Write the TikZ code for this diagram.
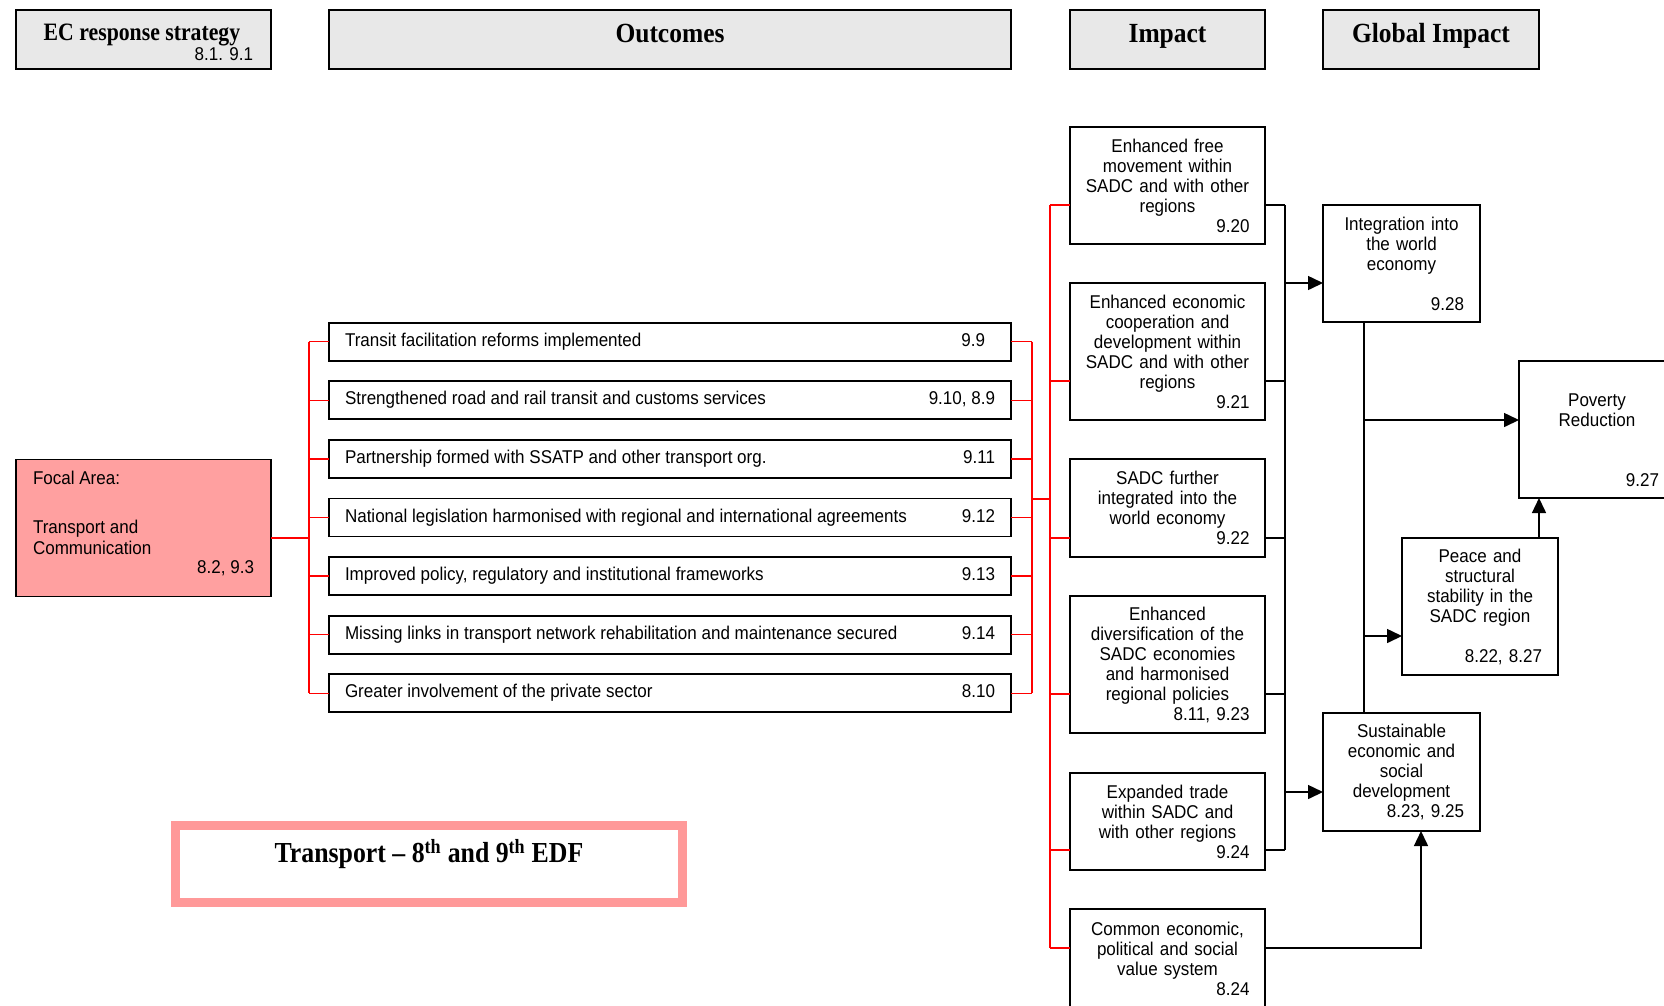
\documentclass[tikz,border=0pt]{standalone}
\usepackage{fontspec}
\setmainfont{Liberation Sans}[FakeStretch=0.92]
\newfontfamily\hdfont{Liberation Serif}[FakeStretch=0.92,Ligatures=TeX]
\newfontfamily\ecfont{Liberation Serif}[FakeStretch=0.87,Ligatures=TeX]
\newfontfamily\ttlfont{Liberation Serif}[FakeStretch=0.89,Ligatures=TeX]
\usetikzlibrary{arrows.meta,calc}
\definecolor{pinkfill}{RGB}{255,160,160}
\definecolor{pinkframe}{RGB}{255,153,153}
\definecolor{hdgray}{RGB}{232,232,232}
\begin{document}
\begin{tikzpicture}[x=1pt,y=-1pt,
  every node/.style={inner sep=0pt, outer sep=0pt},
  body/.style={font=\fontsize{18.5}{20}\selectfont},
  box/.style={draw=black, line width=1.8pt, fill=white, body},
  obox/.style={box, minimum width=682, minimum height=38, text height=12.8pt, text depth=3.8pt},
  ibox/.style={box, minimum width=195, text width=178, align=center},
  gbox/.style={box, minimum width=157, text width=135, align=center},
  hdbox/.style={draw=black, line width=2pt, fill=hdgray, minimum height=59.5, anchor=north west},
  hdtext/.style={font=\hdfont\bfseries\fontsize{27.7}{30}\selectfont, anchor=base},
  redl/.style={draw=red, line width=1.4pt},
  blk/.style={draw=black, line width=1.5pt},
  arr/.style={blk, -{Triangle[length=15pt,width=14pt]}},
]
\useasboundingbox (0,0) rectangle (1664,1005);
\fill[white] (0,0) rectangle (1664,1005);

% ---------- headers
\node[hdbox, minimum width=255] (hEC) at (16,9.5) {};
\node[font=\ecfont\bfseries\fontsize{25}{28}\selectfont, anchor=base] (hECt) at (142,40) {EC response strategy};
\node[body, anchor=east] (hECn) at (253,54) {8.1. 9.1};
\node[hdbox, minimum width=682] (hOut) at (329,9.5) {};
\node[hdtext] (hOutt) at (670,42) {Outcomes};
\node[hdbox, minimum width=195] (hImp) at (1070,9.5) {};
\node[hdtext] (hImpt) at (1167.5,42) {Impact};
\node[hdbox, minimum width=216] (hGlo) at (1323,9.5) {};
\node[hdtext] (hGlot) at (1431,42) {Global Impact};

% ---------- focal area
\node[draw=black, line width=1.8pt, fill=pinkfill, minimum width=255, minimum height=137, anchor=north west] (focal) at (16,459.5) {};
\node[body, anchor=base west] (focalt1) at (33,484) {Focal Area:};
\node[body, anchor=base west] (focalt2) at (33,533) {Transport and};
\node[body, anchor=base west] (focalt3) at (33,554) {Communication};
\node[body, anchor=east] (focaln) at (254,568) {8.2, 9.3};

% ---------- outcomes
\node[obox] (o1) at (670,341.7) {\makebox[650pt][l]{Transit facilitation reforms implemented\hfill 9.9\hspace{10pt}}};
\node[obox] (o2) at (670,400.3) {\makebox[650pt][l]{Strengthened road and rail transit and customs services\hfill 9.10, 8.9}};
\node[obox] (o3) at (670,458.9) {\makebox[650pt][l]{Partnership formed with SSATP and other transport org.\hfill 9.11}};
\node[obox] (o4) at (670,517.5) {\makebox[650pt][l]{National legislation harmonised with regional and international agreements\hfill 9.12}};
\node[obox] (o5) at (670,576.1) {\makebox[650pt][l]{Improved policy, regulatory and institutional frameworks\hfill 9.13}};
\node[obox] (o6) at (670,634.7) {\makebox[650pt][l]{Missing links in transport network rehabilitation and maintenance secured\hfill 9.14}};
\node[obox] (o7) at (670,693.3) {\makebox[650pt][l]{Greater involvement of the private sector\hfill 8.10}};

% ---------- impact
\node[ibox, minimum height=117] (i1) at (1167.5,185.5) {Enhanced free\\movement within\\SADC and with other\\regions\\\hspace*{\fill}9.20\kern7pt};
\node[ibox, minimum height=137] (i2) at (1167.5,351.5) {Enhanced economic\\cooperation and\\development within\\SADC and with other\\regions\\\hspace*{\fill}9.21\kern7pt};
\node[ibox, minimum height=98] (i3) at (1167.5,508) {SADC further\\integrated into the\\world economy\\\hspace*{\fill}9.22\kern7pt};
\node[ibox, minimum height=137] (i4) at (1167.5,664.5) {Enhanced\\diversification of the\\SADC economies\\and harmonised\\regional policies\\\hspace*{\fill}8.11, 9.23\kern7pt};
\node[ibox, minimum height=97] (i5) at (1167.5,821.5) {Expanded trade\\within SADC and\\with other regions\\\hspace*{\fill}9.24\kern7pt};
\node[ibox, minimum height=99] (i6) at (1167.5,958.5) {Common economic,\\political and social\\value system\\\hspace*{\fill}8.24\kern7pt};

% ---------- global impact
\node[gbox, minimum height=117] (g1) at (1401.5,263.5) {Integration into\\the world\\economy\\[20pt]\hspace*{\fill}9.28\kern5pt};
\node[gbox, minimum height=118] (sus) at (1401.5,772) {Sustainable\\economic and\\social\\development\\\hspace*{\fill}8.23, 9.25\kern5pt};
\node[box, minimum width=156, minimum height=137, text width=134, align=center] (peace) at (1480,606.5) {Peace and\\structural\\stability in the\\SADC region\\[20pt]\hspace*{\fill}8.22, 8.27\kern5pt};
\node[box, minimum width=156, minimum height=137, anchor=north west] (pov) at (1519,361) {};
\node[body, align=center] (povt) at (1597,410.5) {Poverty\\Reduction};
\node[body, anchor=east] (povn) at (1659,480) {9.27};

% ---------- title
\node[draw=pinkframe, line width=9pt, fill=white, minimum width=507, minimum height=77] (title) at (429,864) {};
\node[font=\ttlfont\bfseries\fontsize{29}{32}\selectfont] (titlet) at (429,854) {Transport – 8\textsuperscript{th} and 9\textsuperscript{th} EDF};

% ---------- red connectors
\coordinate (lb) at (309,538);
\draw[redl] (lb -| focal.east) -- (lb);
\draw[redl] (o1.west -| lb) -- (o7.west -| lb);
\foreach \k in {1,...,7} { \draw[redl] (o\k.west -| lb) -- (o\k.west); }
\coordinate (rb) at (1032,499);
\coordinate (rb2) at (1050,499);
\foreach \k in {1,...,7} { \draw[redl] (o\k.east) -- (o\k.east -| rb); }
\draw[redl] (o1.east -| rb) -- (o7.east -| rb);
\draw[redl] (rb) -- (rb2);
\coordinate (b1) at (1050,205);
\coordinate (b2) at (1050,381);
\coordinate (b3) at (1050,538);
\coordinate (b4) at (1050,694);
\coordinate (b5) at (1050,850);
\coordinate (b6) at (1050,948);
\draw[redl] (b1) -- (b6);
\foreach \k in {1,...,6} { \draw[redl] (b\k) -- (b\k -| i\k.west); }

% ---------- black connectors
\coordinate (kb1) at (1285,205);
\coordinate (kb2) at (1285,381);
\coordinate (kb3) at (1285,538);
\coordinate (kb4) at (1285,694);
\coordinate (kb5) at (1285,850);
\foreach \k in {1,...,5} { \draw[blk] (kb\k -| i\k.east) -- (kb\k); }
\draw[blk] (kb1) -- (kb5);
\coordinate (ka) at (1285,283);
\coordinate (kc) at (1285,792);
\draw[arr] (ka) -- (ka -| g1.west);
\draw[arr] (kc) -- (kc -| sus.west);
\coordinate (v1) at (1364,420);
\coordinate (v2) at (1364,636);
\draw[blk] (v1 |- g1.south) -- (v1 |- sus.north);
\draw[arr] (v1) -- (v1 -| pov.west);
\draw[arr] (v2) -- (v2 -| peace.west);
\coordinate (pp) at (1539,500);
\draw[arr] (pp |- peace.north) -- (pp |- pov.south);
\coordinate (cs) at (1421,948);
\draw[arr] (cs -| i6.east) -- (cs) -- (cs |- sus.south);
\end{tikzpicture}
\end{document}
